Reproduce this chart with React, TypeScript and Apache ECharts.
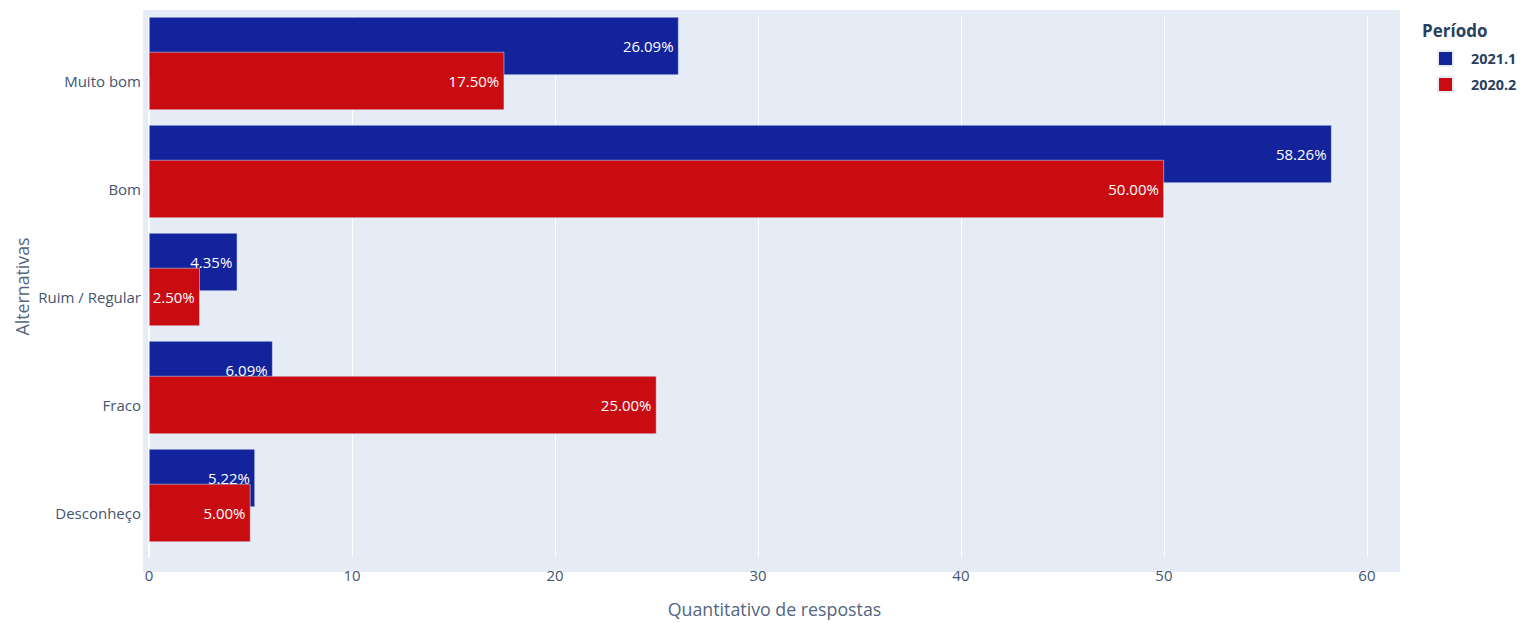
import React, { useEffect, useRef } from 'react';
import * as echarts from 'echarts';

const categories = ['Muito bom', 'Bom', 'Ruim / Regular', 'Fraco', 'Desconheço'];
const values2021 = [26.09, 58.26, 4.35, 6.09, 5.22];
const values2020 = [17.5, 50.0, 2.5, 25.0, 5.0];
const seriesNames = ['2021.1', '2020.2'];
const xMin = 0;
const xMax = 61.63;
const xInterval = 10;

const FONT = '"Open Sans", "Noto Sans", sans-serif';
const TXT = '#2a3f5f';
const TICK = '#44546f';
const AXTITLE = '#55657f';
const BLUE = '#12239c';
const RED = '#c90c11';

export default function App() {
  const ref = useRef<HTMLDivElement>(null);
  useEffect(() => {
    document.body.style.margin = '0';
    const chart = echarts.init(ref.current!, null, { renderer: 'svg' });
    const label = {
      show: true,
      position: 'insideRight',
      distance: 5,
      color: '#ffffff',
      fontSize: 15,
      fontWeight: 500,
      fontFamily: FONT,
      formatter: (p: any) => Number(p.value).toFixed(2) + '%',
    };
    chart.setOption({
      animation: false,
      textStyle: { fontFamily: FONT },
      graphic: [
        {
          type: 'rect',
          z: -10,
          silent: true,
          shape: { x: 143, y: 10, width: 1257, height: 562 },
          style: { fill: '#E5ECF6' },
        },
      ],
      title: {
        text: 'Período',
        left: 1422,
        top: 22,
        padding: 0,
        textStyle: { fontSize: 17, fontWeight: 'bold', color: TXT, fontFamily: FONT },
      },
      legend: {
        data: seriesNames,
        orient: 'vertical',
        left: 1437,
        top: 50,
        padding: 0,
        itemWidth: 15,
        itemHeight: 15,
        itemGap: 9,
        icon: 'rect',
        textStyle: {
          fontSize: 14.4,
          fontWeight: 'bold',
          color: TXT,
          fontFamily: FONT,
          padding: [0, 0, 0, 13],
        },
      },
      grid: [
        { left: 149, right: 120, top: 16, bottom: 58, containLabel: false },
        { left: 149, right: 120, top: 27, height: 540, containLabel: false },
      ],
      xAxis: [
        {
          gridIndex: 0,
          type: 'value',
          min: xMin,
          max: xMax,
          interval: xInterval,
          axisLine: { show: false },
          axisTick: { show: false },
          splitLine: { show: true, showMaxLine: false, lineStyle: { color: '#ffffff', width: 1 } },
          axisLabel: {
            color: TICK,
            fontSize: 15,
            fontFamily: FONT,
            margin: 10,
            showMaxLabel: false,
            formatter: (v: number) => (v % xInterval === 0 ? String(v) : ''),
          },
          name: 'Quantitativo de respostas',
          nameLocation: 'middle',
          nameGap: 43,
          nameTextStyle: { fontSize: 17.8, color: AXTITLE, fontFamily: FONT },
        },
        {
          gridIndex: 1,
          type: 'value',
          min: xMin,
          max: xMax,
          interval: xInterval,
          show: false,
        },
      ],
      yAxis: [
        {
          gridIndex: 0,
          type: 'value',
          min: 0,
          max: 1,
          axisLine: { show: true, lineStyle: { color: '#ffffff', width: 2 } },
          axisTick: { show: false },
          axisLabel: { show: false },
          splitLine: { show: false },
          name: 'Alternativas',
          nameLocation: 'middle',
          nameRotate: 90,
          nameGap: 118,
          nameTextStyle: { fontSize: 17.8, color: AXTITLE, fontFamily: FONT },
        },
        {
          gridIndex: 1,
          type: 'category',
          inverse: true,
          data: categories,
          axisLine: { show: false },
          axisTick: { show: false },
          splitLine: { show: false },
          axisLabel: { color: TICK, fontSize: 15, fontFamily: FONT, margin: 8 },
        },
      ],
      series: [
        {
          name: seriesNames[0],
          type: 'bar',
          xAxisIndex: 1,
          yAxisIndex: 1,
          data: values2021,
          barWidth: 58,
          barGap: '-39.66%',
          clip: false,
          itemStyle: { color: BLUE, borderColor: '#E5ECF6', borderWidth: 0.5 },
          label,
          z: 2,
        },
        {
          name: seriesNames[1],
          type: 'bar',
          xAxisIndex: 1,
          yAxisIndex: 1,
          data: values2020,
          barWidth: 58,
          barGap: '-39.66%',
          clip: false,
          itemStyle: { color: RED, borderColor: '#E5ECF6', borderWidth: 0.5 },
          label,
          z: 3,
        },
        {
          name: 'spacer',
          type: 'bar',
          xAxisIndex: 1,
          yAxisIndex: 1,
          data: categories.map(() => null),
          barWidth: 58,
          barGap: '-39.66%',
          clip: false,
          silent: true,
        },
      ],
    });
    return () => chart.dispose();
  }, []);
  return <div ref={ref} style={{ width: 1520, height: 623 }} />;
}
